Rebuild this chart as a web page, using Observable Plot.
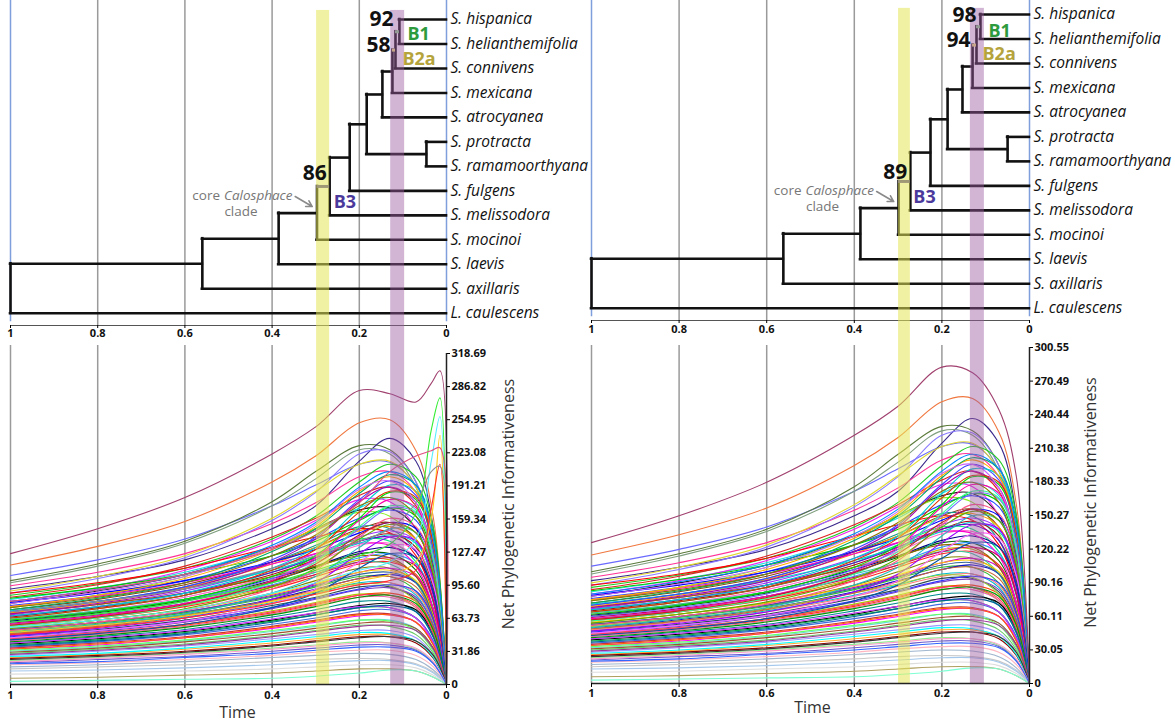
<!DOCTYPE html>
<html><head><meta charset="utf-8">
<script src="https://cdn.jsdelivr.net/npm/d3@7"></script>
<script src="https://cdn.jsdelivr.net/npm/@observablehq/plot@0.6"></script>
<style>
body{margin:0;background:#fff;font-family:"Open Sans",sans-serif;}
#wrap{position:relative;width:1175px;height:726px;overflow:hidden;background:#fff;}
.p{position:absolute;}
</style></head><body><div id="wrap"></div>
<script>
// ---------------- DATA ----------------
const tipNames = ["S. hispanica","S. helianthemifolia","S. connivens","S. mexicana","S. atrocyanea","S. protracta","S. ramamoorthyana","S. fulgens","S. melissodora","S. mocinoi","S. laevis","S. axillaris","L. caulescens"];
const nodeIds = ["n1","n2","n3","n4","n5","n6","n7","n8","n9","n10","n11","root"];
const nodeChildren = [["S. hispanica","S. helianthemifolia"],["n1","S. connivens"],["n2","S. mexicana"],["n3","S. atrocyanea"],["S. protracta","S. ramamoorthyana"],["n4","n5"],["n6","S. fulgens"],["n7","S. melissodora"],["n8","S. mocinoi"],["n9","S. laevis"],["n10","S. axillaris"],["n11","L. caulescens"]];
const nodeAgesA = [0.108,0.117,0.124,0.147,0.046,0.183,0.222,0.268,0.297,0.385,0.56,1.0];
const nodeAgesB = [0.112,0.121,0.130,0.153,0.050,0.187,0.226,0.272,0.299,0.386,0.562,1.0];
const bootNodes = ["n1","n2","n8"];
const bootA = ["92","58","86"];
const bootB = ["98","94","89"];
const cladeNodes = ["n1","n2","n8"];
const cladeLabels = ["B1","B2a","B3"];
const cladeTextColors = ["#2e9a3e","#b5a33c","#4b3a9c"];
const cladeStemColors = ["#8fd08a","#ece27a","#4b3a9c"];
const xTicks = [1,0.8,0.6,0.4,0.2,0];
const xTickLabels = ["1","0.8","0.6","0.4","0.2","0"];
const yTicksA = ["0","31.86","63.73","95.60","127.47","159.34","191.21","223.08","254.95","286.82","318.69"];
const yTicksB = ["0","30.05","60.11","90.16","120.22","150.27","180.33","210.38","240.44","270.49","300.55"];
const yellowBandA = [0.298,0.268], purpleBandA = [0.128,0.096];
const yellowBandB = [0.299,0.272], purpleBandB = [0.135,0.103];
const yTitle = "Net Phylogenetic Informativeness";
const xTitle = "Time";

// informativeness profiles (time knots shared)
const sharedKnots = [1,0.8,0.6,0.4,0.3,0.2,0.13,0.07,0.03,0];
const sharedCurves = [
[115,133,157,195,220,252,255,225,160,0],
[105,120,140,172,192,212,214,190,130,0],
[100,116,138,176,205,230,226,195,130,0],
[92,104,120,150,172,215,237,215,150,0],
[98,114,136,172,198,226,222,190,125,0],
[95,108,126,155,175,200,205,185,130,0],
[88,102,122,158,185,222,224,195,135,0],
[90,104,124,160,186,212,215,190,140,0],
[86,97,112,140,162,195,212,200,150,0],
[84,96,114,142,160,182,190,172,120,0],
[82,93,108,132,148,170,180,168,125,0],
[80,92,110,138,158,178,176,150,100,0],
[78,90,106,132,150,168,170,150,100,0],
[76,86,100,124,140,160,168,158,115,0],
[74,86,104,132,150,166,162,135,85,0],
[72,82,96,118,132,150,156,140,95,0],
[70,80,94,118,134,152,150,128,85,0],
[69,79,93,116,132,148,152,140,100,0],
[67,77,90,112,126,142,148,138,98,0],
[65,74,86,106,120,138,145,132,92,0],
[64,73,86,108,124,140,138,118,78,0],
[62,71,84,104,118,134,136,122,84,0],
[61,70,82,102,114,128,132,122,88,0],
[60,69,81,100,113,126,126,110,72,0],
[58,66,78,96,108,122,126,116,80,0],
[57,65,76,94,106,120,120,104,68,0],
[56,64,75,92,104,116,118,106,72,0],
[54,62,72,88,100,112,112,98,64,0],
[53,60,70,86,96,108,112,104,72,0],
[52,59,69,84,94,104,104,90,58,0],
[50,57,67,82,92,102,106,98,68,0],
[49,56,65,79,88,98,98,86,56,0],
[48,55,64,78,87,96,98,88,60,0],
[47,53,62,76,84,94,94,82,52,0],
[45,51,60,73,82,91,93,84,56,0],
[44,50,58,71,79,87,86,74,46,0],
[43,49,57,69,77,86,88,80,54,0],
[42,48,56,68,76,84,84,74,48,0],
[40,46,53,65,72,80,80,70,45,0],
[39,44,51,62,69,76,78,72,48,0],
[38,43,50,61,67,74,74,64,41,0],
[36,41,48,58,64,71,72,64,42,0],
[35,40,46,56,62,68,68,60,38,0],
[34,38,45,54,60,66,67,60,40,0],
[32,36,42,51,56,62,62,54,34,0],
[31,35,41,49,54,59,60,54,35,0],
[30,34,39,47,52,57,56,48,30,0],
[28,32,37,44,48,52,52,45,28,0],
[26,29,34,40,44,48,48,42,27,0],
[25,28,32,38,42,46,46,40,25,0],
[23,26,30,35,38,41,40,34,21,0],
[21,24,27,32,35,38,38,33,20,0],
[19,21,24,28,31,33,33,28,17,0],
[17,19,22,26,28,30,29,24,14,0],
[15,17,19,22,24,25,24,20,12,0],
[13,14,16,19,21,23,23,19,11,0],
[10,11,13,15,17,19,19,16,9,0],
[6,7,9,11,13,15,15,13,7,0],
[3,4,5,6,8,11,14,13,7,0],
[88,98,112,132,142,150,146,124,80,0],
[83,93,106,124,138,158,170,162,118,0],
[79,88,100,118,130,146,156,150,112,0],
[75,85,98,116,126,136,134,114,72,0],
[71,80,92,110,122,136,144,136,98,0],
[68,77,88,104,114,124,122,104,66,0],
[66,75,88,108,122,138,142,128,86,0],
[63,71,82,98,108,118,116,98,62,0],
[59,67,78,95,106,118,122,114,80,0],
[55,62,72,87,97,108,110,100,66,0],
[53,60,70,85,95,106,108,98,64,0],
[51,58,67,81,89,97,95,80,50,0],
[49,56,66,81,91,102,104,94,62,0],
[46,52,61,74,83,92,96,90,62,0],
[44,50,58,70,78,86,86,76,48,0],
[41,47,55,67,75,84,86,78,52,0],
[40,45,52,63,69,75,74,64,40,0],
[37,42,49,60,67,74,76,70,46,0],
[34,39,45,55,61,67,67,60,38,0],
[33,37,43,52,57,62,61,52,32,0],
[29,33,38,46,51,56,57,52,34,0],
[27,30,35,42,46,50,49,42,26,0],
[24,27,31,37,41,45,46,42,28,0],
[22,25,29,34,37,40,40,35,22,0],
[20,22,26,30,33,36,36,32,20,0],
[62,70,82,104,124,160,185,178,130,0],
[58,66,78,100,122,158,178,170,120,0],
[70,80,94,120,142,178,196,182,130,0],
[66,75,88,112,132,170,192,186,140,0],
[75,86,102,130,152,186,200,185,135,0],
[68,78,92,118,140,176,190,175,120,0],
[72,83,98,128,150,184,202,192,145,0],
[64,73,86,110,130,166,186,180,135,0],
[60,68,80,102,120,150,170,165,122,0],
[78,89,104,132,154,188,196,175,120,0],
[56,64,76,98,118,152,172,166,120,0],
[52,60,71,92,110,142,160,152,110,0],
[74,84,98,124,144,172,180,162,110,0],
[80,91,106,134,156,190,205,192,140,0],
[57,65,77,99,116,144,156,146,104,0],
[50,58,68,88,104,132,150,146,108,0],
[47,54,64,82,98,126,142,138,100,0],
[54,62,73,94,112,140,154,146,106,0],
[45,52,61,78,92,118,134,130,96,0],
[43,49,58,74,88,112,126,122,90,0]
];
const curveColors = ["#f07840","#6a6aff","#5a7a3a","#3c2a8c","#7f9f7f","#ff3399","#8a7aff","#e0d830","#22cc22","#dd2222","#22dddd","#ee22ee","#222222","#2244ff","#88ee22","#8b4513","#1a9a8a","#ff9900","#9933ff","#aa1111","#00ee77","#ff66cc","#000088","#006600","#3399ff","#ccaa00","#ff2222","#808000","#cc00cc","#33bb33","#1111cc","#00bbcc","#ff7777","#2f4f4f","#7b3fbf","#aacc00","#ff4500","#ee66aa","#008b8b","#000000","#00aa44","#4169e1","#cc3333","#ff00ff","#66dddd","#a0522d","#66cc66","#9999ff","#ffaa33","#8b0000","#90ee90","#6a5acd","#ffb6c1","#9fb6cd","#c8c8c8","#a4c8ec","#dddddd","#b0a060","#7fffd4","#ff0000","#00cc00","#0000ff","#ff00cc","#00cccc","#996600","#6600cc","#33cc99","#cc0066","#ffcc00","#336699","#99cc33","#cc6633","#3333ff","#ff3366","#009900","#cc33ff","#006699","#ff6600","#66ff66","#993399","#00ffff","#333333","#ff99cc","#3366ff",
"#00dd00","#ff00aa","#4040ff","#00cccc","#ffaa00","#aa00aa","#00aa66","#dd3300","#7070ff","#cc66ff","#33ff99","#ff5588","#887700","#0088ff","#bb2222","#22bbbb","#9900ff","#66aa00","#ff66ff","#0055aa"];
// left-panel profiles with late spikes
const spikeKnots = [1,0.8,0.6,0.4,0.3,0.2,0.13,0.07,0.035,0.015,0];
const spikeCurvesA = [
[60,68,80,98,110,124,135,165,245,276,0],
[55,62,72,88,98,110,118,140,215,258,0],
[50,57,66,80,90,100,106,118,160,240,0],
[80,91,106,130,148,175,205,220,225,228,0],
[48,55,64,78,87,96,100,110,170,212,0],
[70,80,92,112,124,138,150,175,205,210,0],
[126,150,180,222,248,283,280,272,290,302,0]
];
const spikeColorsA = ["#33ee33","#55eeff","#ffcc22","#e05080","#ff3030","#909090","#a0406e"];
const topCurveB = [126,150,180,222,248,283,278,245,185,0];
const topColorB = "#a0406e";

// ---------------- DRAWING ----------------
const wrap = document.getElementById("wrap");
function place(svg, left, top, w){const d=document.createElement("div");d.className="p";d.style.left=left+"px";d.style.top=top+"px";d.style.width=w+"px";d.appendChild(svg);wrap.appendChild(d);}
const fmtX = d => xTickLabels[xTicks.indexOf(d)];
const TREE_H = 345, TREE_FRAME = 306;

function buildTree(ages){
  const pos = new Map();
  tipNames.forEach((n,i)=>pos.set(n,{t:0,y:i}));
  nodeIds.forEach((id,k)=>{
    const ch = nodeChildren[k].map(c=>pos.get(c));
    pos.set(id,{t:ages[k],y:d3.mean(ch,c=>c.y),ya:d3.min(ch,c=>c.y),yb:d3.max(ch,c=>c.y)});
  });
  const horiz=[],stems=[],vert=[];
  nodeIds.forEach((id,k)=>{
    const p=pos.get(id);
    vert.push({t:p.t,ya:p.ya,yb:p.yb});
    nodeChildren[k].forEach(c=>{
      const q=pos.get(c), ci=cladeNodes.indexOf(c);
      const seg={x1:p.t,x2:q.t,y:q.y};
      if(ci>=0){seg.color=cladeStemColors[ci];stems.push(seg);} else horiz.push(seg);
    });
  });
  return {pos,horiz,stems,vert};
}

function treeChart(c){
  const {pos,horiz,stems,vert}=buildTree(c.ages);
  const tips=tipNames.map(n=>({name:n,...pos.get(n)}));
  const n9=pos.get("n9");
  const bandBottom=(TREE_H-c.marginTop)*12.5/TREE_FRAME;
  const marks=[
    Plot.ruleX([0.8,0.6,0.4,0.2],{y1:c.gridTop,y2:12.5,stroke:"#9a9a9a",strokeWidth:1.5}),
    Plot.ruleX([1,0],{y1:c.gridTop,y2:12.35,stroke:"#7f9fdc",strokeWidth:1.5}),
    Plot.ruleY([12.5],{x1:1,x2:0,stroke:"#555",strokeWidth:1}),
    Plot.axisX({ticks:xTicks,tickFormat:fmtX,tickSize:3,tickPadding:c.tickPad,fontSize:11,fontWeight:"bold",fill:"#111",label:null}),
    Plot.ruleY(horiz,{y:"y",x1:"x1",x2:"x2",stroke:"#111",strokeWidth:2.6,strokeLinecap:"square"}),
    Plot.ruleX(vert,{x:"t",y1:"ya",y2:"yb",stroke:"#111",strokeWidth:2.6,strokeLinecap:"square"}),
    Plot.ruleY(stems,{y:"y",x1:"x1",x2:"x2",stroke:"color",strokeWidth:3}),
    Plot.rect([c.yellow],{x1:d=>d[0],x2:d=>d[1],y1:c.bandTop,y2:bandBottom,fill:"#e6e65a",fillOpacity:0.55}),
    Plot.rect([c.purple],{x1:d=>d[0],x2:d=>d[1],y1:c.bandTop,y2:bandBottom,fill:"#9b5aa0",fillOpacity:0.45}),
    Plot.text(tips,{x:"t",y:"y",text:"name",textAnchor:"start",dx:4,fontSize:15.5,fontStyle:"italic",fill:"#111"}),
    Plot.arrow([n9],{x1:d=>d.t+0.05,y1:d=>d.y-0.68,x2:d=>d.t+0.011,y2:d=>d.y-0.27,stroke:"#8a8a8a",strokeWidth:1.6,headLength:7}),
    Plot.text([n9],{x:"t",y:"y",text:()=>"core",textAnchor:"end",dx:-97,dy:-17,fontSize:13.5,fill:"#777"}),
    Plot.text([n9],{x:"t",y:"y",text:()=>"Calosphace",textAnchor:"start",dx:-93,dy:-17,fontSize:13.5,fontStyle:"italic",fill:"#777"}),
    Plot.text([n9],{x:"t",y:"y",text:()=>"clade",textAnchor:"middle",dx:-76,dy:-1,fontSize:13.5,fill:"#777"})
  ];
  bootNodes.forEach((id,k)=>{
    marks.push(Plot.text([pos.get(id)],{x:"t",y:"y",text:()=>c.boots[k],textAnchor:"end",dx:c.bootDx[k],dy:c.bootDy[k],fontSize:21,fontWeight:"bold",fill:"#111"}));
  });
  cladeNodes.forEach((id,k)=>{
    marks.push(Plot.text([pos.get(id)],{x:"t",y:"y",text:()=>cladeLabels[k],textAnchor:"start",dx:c.cladeDx[k],dy:c.cladeDy[k],fontSize:18,fontWeight:"bold",fill:cladeTextColors[k]}));
  });
  return Plot.plot({width:c.width,height:TREE_H,marginLeft:10,marginRight:c.marginRight,marginTop:c.marginTop,marginBottom:TREE_H-c.marginTop-TREE_FRAME,
    x:{domain:[1,0],label:null},y:{domain:[0,12.5],reverse:true,axis:null},color:{type:"identity"},
    style:{overflow:"visible",background:"transparent",fontFamily:"Open Sans"},marks});
}

function curveChart(c){
  const rows=[];
  c.series.forEach(s=>s.values.forEach((v,j)=>rows.push({id:s.id,t:s.knots[j],v,col:s.color})));
  const frameH=c.height-c.marginTop-c.marginBottom;
  const topVal=c.ymax*(frameH+c.marginTop)/frameH;
  const ticks=c.yTicks.map(Number);
  return Plot.plot({width:c.width,height:c.height,marginLeft:10,marginRight:c.marginRight,marginTop:c.marginTop,marginBottom:c.marginBottom,
    x:{domain:[1,0],label:null},y:{domain:[0,c.ymax],label:null},color:{type:"identity"},
    style:{overflow:"visible",background:"transparent",fontFamily:"Open Sans"},
    marks:[
      Plot.ruleX([1,0.8,0.6,0.4,0.2],{y1:0,y2:topVal,stroke:"#9a9a9a",strokeWidth:1.5}),
      Plot.line(rows,{x:"t",y:"v",z:"id",stroke:"col",strokeWidth:1.1,curve:"catmull-rom"}),
      Plot.rect([c.yellow],{x1:d=>d[0],x2:d=>d[1],y1:0,y2:topVal,fill:"#e6e65a",fillOpacity:0.55}),
      Plot.rect([c.purple],{x1:d=>d[0],x2:d=>d[1],y1:0,y2:topVal,fill:"#9b5aa0",fillOpacity:0.45}),
      Plot.ruleY([0],{x1:1,x2:0,stroke:"#222",strokeWidth:1.5}),
      Plot.ruleX([0],{y1:0,y2:c.ymax,stroke:"#222",strokeWidth:1.5}),
      Plot.axisY({anchor:"right",ticks,tickFormat:d=>c.yTicks[ticks.indexOf(d)],tickSize:3,tickPadding:2,fontSize:11,fontWeight:"bold",fill:"#111",label:null}),
      Plot.axisX({ticks:xTicks,tickFormat:fmtX,tickSize:4,tickPadding:c.xPad,fontSize:11,fontWeight:"bold",fill:"#111",label:null}),
      Plot.text([yTitle],{text:d=>d,frameAnchor:"right",rotate:-90,textAnchor:"middle",lineAnchor:"middle",dx:c.titleDx,dy:c.titleDy,fontSize:16,fill:"#333"}),
      Plot.text([xTitle],{text:d=>d,frameAnchor:"bottom",textAnchor:"middle",lineAnchor:"middle",dx:c.timeDx,dy:c.timeDy,fontSize:16,fill:"#333"})
    ]});
}

const sharedSeries = sharedCurves.map((v,i)=>({id:"s"+i,knots:sharedKnots,values:v,color:curveColors[i]}));
const seriesA = sharedSeries.concat(spikeCurvesA.map((v,i)=>({id:"a"+i,knots:spikeKnots,values:v,color:spikeColorsA[i]})));
const seriesB = sharedSeries.concat([{id:"b0",knots:sharedKnots,values:topCurveB,color:topColorB}]);

place(treeChart({ages:nodeAgesA,boots:bootA,width:600,marginRight:154,marginTop:19,gridTop:-0.8,bandTop:-0.37,tickPad:1,
  yellow:yellowBandA,purple:purpleBandA,bootDx:[-6,-5,-3],bootDy:[-12,-4.5,-13],cladeDx:[8,7,4],cladeDy:[2,9,16]}),0,0,600);
place(treeChart({ages:nodeAgesB,boots:bootB,width:594,marginRight:146,marginTop:14,gridTop:-0.6,bandTop:-0.25,tickPad:2,
  yellow:yellowBandB,purple:purpleBandB,bootDx:[-4,-6,-3],bootDy:[-11,-4.5,-9.5],cladeDx:[8,6,3],cladeDy:[4,9,16]}),581,0,594);
place(curveChart({series:seriesA,width:600,marginRight:154,marginTop:8,height:381,marginBottom:42,ymax:318.69,yTicks:yTicksA,
  yellow:yellowBandA,purple:purpleBandA,xPad:3,titleDx:62,titleDy:-15,timeDx:9,timeDy:28}),0,345,600);
place(curveChart({series:seriesB,width:594,marginRight:146,marginTop:2,height:381,marginBottom:43,ymax:300.55,yTicks:yTicksB,
  yellow:yellowBandB,purple:purpleBandB,xPad:2,titleDx:61,titleDy:-13,timeDx:2,timeDy:24}),581,345,594);
</script></body></html>
